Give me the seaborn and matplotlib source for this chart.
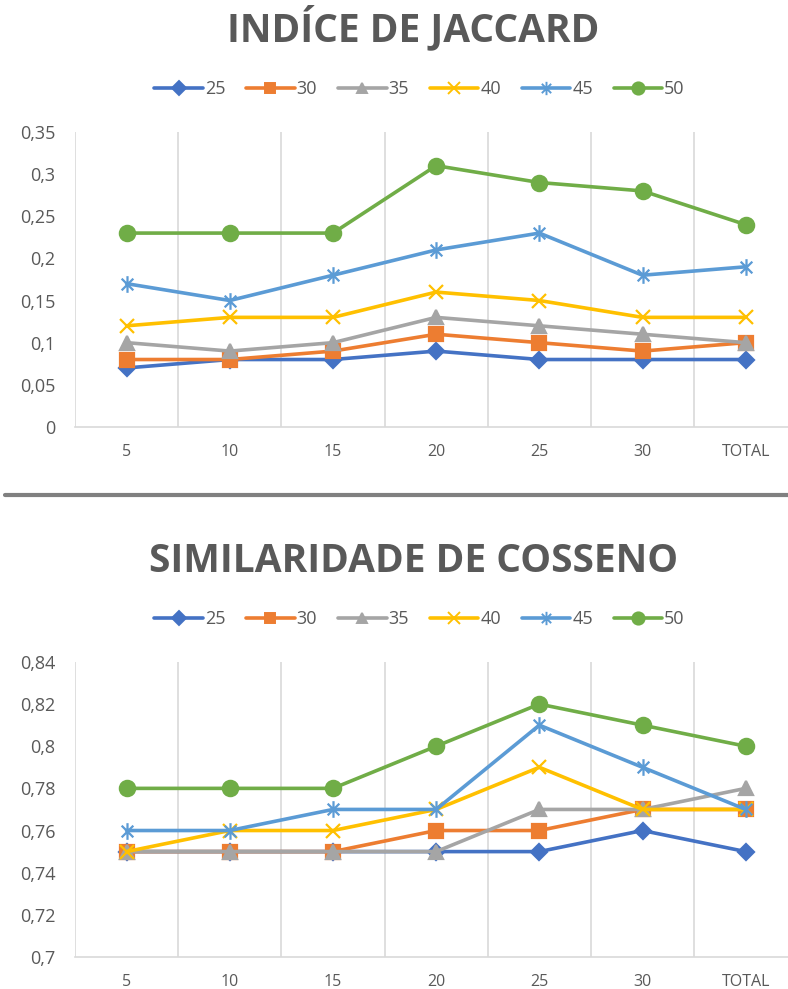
import seaborn as sns
import pandas as pd
import numpy as np
import matplotlib.pyplot as plt
from matplotlib.lines import Line2D
from matplotlib.path import Path

# categories on the x axis
categorias = ['5', '10', '15', '20', '25', '30', 'TOTAL']
series = ['25', '30', '35', '40', '45', '50']

# jaccard values per series
jac_25 = [0.07, 0.08, 0.08, 0.09, 0.08, 0.08, 0.08]
jac_30 = [0.08, 0.08, 0.09, 0.11, 0.10, 0.09, 0.10]
jac_35 = [0.10, 0.09, 0.10, 0.13, 0.12, 0.11, 0.10]
jac_40 = [0.12, 0.13, 0.13, 0.16, 0.15, 0.13, 0.13]
jac_45 = [0.17, 0.15, 0.18, 0.21, 0.23, 0.18, 0.19]
jac_50 = [0.23, 0.23, 0.23, 0.31, 0.29, 0.28, 0.24]

# cosine similarity values per series
cos_25 = [0.75, 0.75, 0.75, 0.75, 0.75, 0.76, 0.75]
cos_30 = [0.75, 0.75, 0.75, 0.76, 0.76, 0.77, 0.77]
cos_35 = [0.75, 0.75, 0.75, 0.75, 0.77, 0.77, 0.78]
cos_40 = [0.75, 0.76, 0.76, 0.77, 0.79, 0.77, 0.77]
cos_45 = [0.76, 0.76, 0.77, 0.77, 0.81, 0.79, 0.77]
cos_50 = [0.78, 0.78, 0.78, 0.80, 0.82, 0.81, 0.80]

# y axis ticks
jac_ticks = [0, 0.05, 0.1, 0.15, 0.2, 0.25, 0.3, 0.35]
cos_ticks = [0.7, 0.72, 0.74, 0.76, 0.78, 0.8, 0.82, 0.84]

# excel style asterisk: vertical bar + an x
asterisco = Path([(0, -1), (0, 1), (-0.7, -0.7), (0.7, 0.7), (-0.7, 0.7), (0.7, -0.7)],
                 [Path.MOVETO, Path.LINETO] * 3)

cores = ['#4472C4', '#ED7D31', '#A5A5A5', '#FFC000', '#5B9BD5', '#70AD47']
marcadores = ['D', 's', '^', 'x', asterisco, 'o']
tamanhos = [8.5, 9.5, 9.5, 10, 12, 11]
texto = '#595959'


def rotulo(v):
    return ('%g' % v).replace('.', ',')


def desenha(ax, valores, ticks, titulo):
    for s, vals, c, m, ms in zip(series, valores, cores, marcadores, tamanhos):
        df = pd.DataFrame({'pos': range(len(vals)), 'valor': vals})
        sns.lineplot(data=df, x='pos', y='valor', color=c, marker=m,
                     markersize=ms, markerfacecolor=c, markeredgecolor=c,
                     markeredgewidth=1.6, linewidth=2.6, ax=ax)
    ax.set_xlim(-0.5, 6.41)
    ax.set_ylim(ticks[0], ticks[-1])
    ax.set_yticks(ticks)
    ax.set_yticklabels([rotulo(t) for t in ticks])
    ax.set_xticks(range(len(categorias)))
    ax.set_xticklabels(categorias)
    ax.set_xticks(np.arange(-0.5, 6.0, 1.0), minor=True)
    ax.grid(False)
    ax.grid(True, which='minor', axis='x', color='#d9d9d9', linewidth=1.2)
    ax.tick_params(axis='both', which='both', length=0, colors=texto)
    ax.tick_params(axis='y', labelsize=13, pad=14)
    ax.tick_params(axis='x', labelsize=11.5, pad=12)
    for sp in ['left', 'right', 'top']:
        ax.spines[sp].set_visible(False)
    ax.spines['bottom'].set_color('#d9d9d9')
    ax.spines['bottom'].set_linewidth(1.2)
    ax.set_xlabel('')
    ax.set_ylabel('')
    handles = [Line2D([0], [0], color=c, marker=m, markersize=ms * 0.8,
                      markerfacecolor=c, markeredgecolor=c, markeredgewidth=1.4,
                      linewidth=2.6) for c, m, ms in zip(cores, marcadores, tamanhos)]
    leg = ax.legend(handles, series, loc='lower center', bbox_to_anchor=(0.483, 1.09),
                    ncol=6, frameon=False, fontsize=13, handlelength=2.7,
                    handletextpad=0.1, columnspacing=1.15, borderaxespad=0)
    for t in leg.get_texts():
        t.set_color(texto)
    ax.set_title(titulo, fontsize=28, fontweight='bold', color=texto, pad=65,
                 x=0.475)


sns.set_theme(style='white')
plt.rcParams['font.family'] = ['Open Sans', 'DejaVu Sans']

fig = plt.figure(figsize=(7.88, 9.89), dpi=100)
ax1 = fig.add_axes([0.0952, 0.5683, 0.9048, 0.2983])
ax2 = fig.add_axes([0.0952, 0.0324, 0.9048, 0.2983])

desenha(ax1, [jac_25, jac_30, jac_35, jac_40, jac_45, jac_50],
        jac_ticks, 'INDÍCE DE JACCARD')
desenha(ax2, [cos_25, cos_30, cos_35, cos_40, cos_45, cos_50],
        cos_ticks, 'SIMILARIDADE DE COSSENO')

# separator between the two charts
fig.add_artist(Line2D([0.006, 1.0], [1 - 495 / 989, 1 - 495 / 989],
                      color='#808080', linewidth=3.0, transform=fig.transFigure))

fig.savefig('out.png', dpi=100)
